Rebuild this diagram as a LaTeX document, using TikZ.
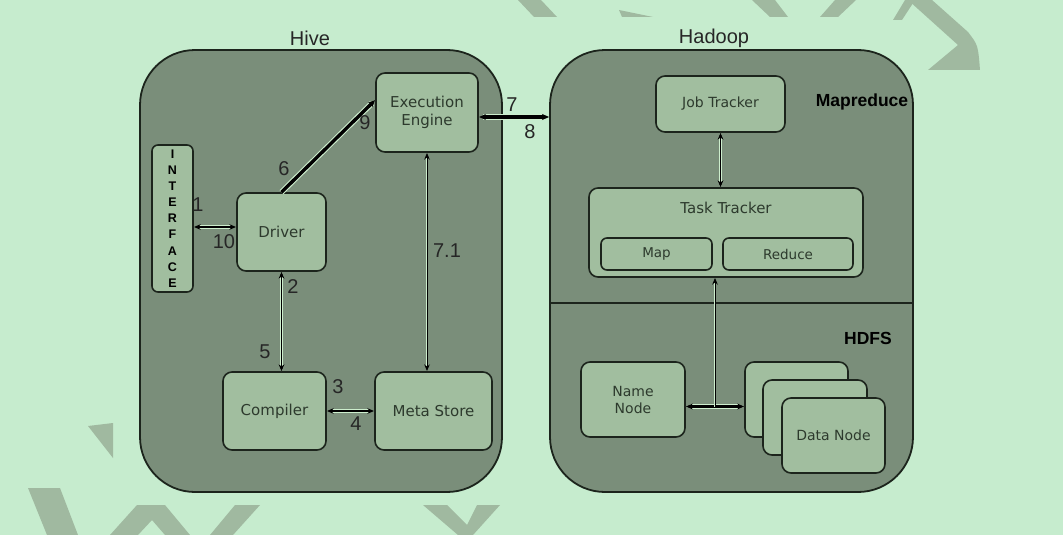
\documentclass[tikz,border=0pt]{standalone}
\usepackage{fontspec}
\setmainfont{Liberation Sans}
\newfontfamily\boxfamily{DejaVu Sans}
\usetikzlibrary{arrows.meta}

\definecolor{bgmint}{RGB}{198,236,206}
\definecolor{framefill}{RGB}{122,142,122}
\definecolor{boxfill}{RGB}{161,190,159}
\definecolor{boxline}{RGB}{28,36,28}
\definecolor{glow}{RGB}{205,238,205}
\definecolor{wmark}{RGB}{160,185,160}
\definecolor{boxtext}{RGB}{45,58,45}

\tikzset{
  frame/.style={draw=boxline, fill=framefill, line width=1.8pt, rounded corners=55pt, inner sep=0pt},
  box/.style={draw=boxline, fill=boxfill, line width=1.6pt, rounded corners=9pt, text=boxtext, align=center, inner sep=0pt, font=\boxfamily\fontsize{15}{17.5}\selectfont},
  link/.style={draw=black, line width=0.9pt, preaction={draw=glow, line width=2.6pt}},
  widelink/.style={draw=black, line width=1.6pt, preaction={draw=glow, line width=4.6pt}},
  boldlink/.style={draw=black, line width=2.4pt, preaction={draw=glow, line width=4.2pt}},
  heavylink/.style={draw=black, line width=3.4pt, preaction={draw=glow, line width=5.6pt}},
  num/.style={font=\fontsize{20}{20}\selectfont, text=black!85, inner sep=0pt},
  title/.style={font=\fontsize{20}{20}\selectfont, text=black!85, inner sep=0pt},
  part/.style={font=\bfseries\fontsize{17.5}{17.5}\selectfont, text=black, inner sep=0pt}
}

\begin{document}
\begin{tikzpicture}[x=1pt, y=-1pt, >={Stealth[length=7pt,width=6pt]}]
  \fill[bgmint] (0,0) rectangle (1063,535);
  \useasboundingbox (0,0) rectangle (1063,535);

  % watermark pieces
  \fill[wmark] (518,0) -- (541,0) -- (557,17) -- (534,17) -- cycle;
  \fill[wmark] (619,10) -- (653,17) -- (622,17) -- cycle;
  \fill[wmark] (752,0) -- (775,0) -- (788,17) -- (770,17) -- cycle;
  \fill[wmark] (835,0) -- (856,0) -- (838,17) -- (820,17) -- cycle;
  \fill[wmark] (893,20) -- (905,0) -- (915,0) -- (902,20) -- cycle;
  \fill[wmark] (908,0) -- (932,0) -- (968,32) .. controls (978,45) .. (980,70) -- (928,70) -- (958,45) -- cycle;
  \fill[wmark] (88,426) -- (113,423) -- (113,458) -- cycle;
  \fill[wmark] (28,488) -- (60,488) -- (78,535) -- (47,535) -- cycle;
  \fill[wmark] (137,505) -- (165,505) -- (190,535) -- (165,535) -- (152,520) -- (138,535) -- (110,535) -- cycle;
  \fill[wmark] (235,505) -- (260,505) -- (233,535) -- (210,535) -- cycle;
  \fill[wmark] (423,505) -- (447,505) -- (467,525) -- (477,505) -- (500,505) -- (473,535) -- (458,535) -- cycle;

  % the two clusters
  \node[frame, minimum width=362pt, minimum height=442pt] (hive) at (321,271) {};
  \node[frame, minimum width=363pt, minimum height=442pt] (hadoop) at (731.5,271) {};
  \node[title] (hivelbl) at (310,38) {Hive};
  \node[title] (hadooplbl) at (714,38) {Hadoop};
  \draw[boxline, line width=1.8pt] (hadoop.west |- 0,303) -- (hadoop.east |- 0,303);
  \node[part] (mrlbl) at (862,102) {Mapreduce};
  \node[part] (hdfslbl) at (868,338) {HDFS};

  % hive side
  \node[box, minimum width=41pt, minimum height=147pt, rounded corners=6pt,
        font=\bfseries\fontsize{12.5}{16.1}\selectfont, text=black] (iface) at (172.5,218.5)
        {I\\N\\T\\E\\R\\F\\A\\C\\E};
  \node[box, minimum width=102pt, minimum height=79pt] (exec) at (427,112.5) {Execution\\Engine};
  \node[box, minimum width=89pt, minimum height=78pt] (driver) at (281.5,232) {Driver};
  \node[box, minimum width=103pt, minimum height=78pt] (compiler) at (274.5,411) {Compiler};
  \node[box, minimum width=117pt, minimum height=78pt] (meta) at (433.5,411) {Meta Store};

  % hadoop side
  \node[box, minimum width=129pt, minimum height=56pt, font=\boxfamily\fontsize{14}{17}\selectfont] (job) at (720.5,104) {Job Tracker};
  \node[box, minimum width=274pt, minimum height=89pt] (task) at (726,232.5) {};
  \node[text=boxtext, font=\boxfamily\fontsize{15}{17}\selectfont] (tasklbl) at (726,208) {Task Tracker};
  \node[box, minimum width=111pt, minimum height=32pt, rounded corners=6pt, font=\boxfamily\fontsize{13.5}{15}\selectfont] (map) at (656.5,254) {Map};
  \node[box, minimum width=130pt, minimum height=32pt, rounded corners=6pt, font=\boxfamily\fontsize{13.5}{15}\selectfont] (reduce) at (788,254) {Reduce};
  \node[box, minimum width=104pt, minimum height=75pt, font=\boxfamily\fontsize{14}{17}\selectfont] (name) at (633,399.5) {Name\\Node};
  \node[box, minimum width=103pt, minimum height=75pt] (data3) at (796.5,399.5) {};
  \node[box, minimum width=104pt, minimum height=75pt] (data2) at (815,417.5) {};
  \node[box, minimum width=103pt, minimum height=75pt, font=\boxfamily\fontsize{14}{17}\selectfont] (data1) at (833.5,435.5) {Data Node};

  % connectors
  \draw[widelink, <->] ([yshift=-8.5pt]iface.east) -- ([yshift=-8.5pt]iface.east -| driver.west);
  \draw[link, <->] (driver.south) -- (driver.south |- compiler.north);
  \draw[widelink, <->] (compiler.east) -- (meta.west);
  \draw[heavylink, ->] (driver.north) -- ([yshift=12.5pt]exec.west);
  \draw[heavylink, <->] ([yshift=-4.5pt]exec.east) -- ([yshift=-4.5pt]exec.east -| hadoop.west);
  \draw[link, <->] (exec.south) -- (exec.south |- meta.north);
  \draw[link, <->] (job.south) -- (job.south |- task.north);
  \coordinate (hub) at (715,406.5);
  \draw[boldlink, <->] (name.east |- hub) -- (hub -| data3.west);
  \draw[link, ->] (hub) -- (hub |- task.south);

  % step numbers
  \node[num] (n1) at (198,205) {1};
  \node[num] (n10) at (224,242) {10};
  \node[num] (n2) at (293,287) {2};
  \node[num] (n5) at (265,352) {5};
  \node[num] (n3) at (338,387) {3};
  \node[num] (n4) at (356,424) {4};
  \node[num] (n6) at (284,169) {6};
  \node[num] (n9) at (365,123) {9};
  \node[num] (n7) at (512,105) {7};
  \node[num] (n8) at (530,132) {8};
  \node[num] (n71) at (447,251) {7.1};
\end{tikzpicture}
\end{document}
